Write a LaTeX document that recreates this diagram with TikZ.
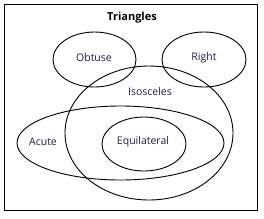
\documentclass[tikz,border=0pt]{standalone}
\usepackage{fontspec}
\setmainfont{Open Sans}
\usetikzlibrary{shapes.geometric}
\definecolor{labelnavy}{RGB}{30,30,70}
\tikzset{
  setring/.style={draw,ellipse,line width=0.9pt,inner sep=0pt},
  setname/.style={font=\fontsize{10.5}{12}\selectfont,text=labelnavy}
}
\begin{document}
\begin{tikzpicture}[x=1pt,y=-1pt]
  \useasboundingbox (0,0) rectangle (264,218);
  \node[draw,line width=1pt,minimum width=253pt,minimum height=205.5pt,inner sep=0pt] (frame) at (131,107.5) {};
  \node[font=\bfseries\fontsize{11}{13}\selectfont] (title) at (132,18) {Triangles};
  % the five sets
  \node[setring,minimum width=83pt,minimum height=55pt] (obtuse) at (94.5,59.5) {};
  \node[setring,minimum width=84pt,minimum height=55pt] (right) at (204,59.5) {};
  \node[setring,minimum width=168pt,minimum height=134pt] (isos) at (149,133) {};
  \node[setring,minimum width=207pt,minimum height=74pt] (acute) at (120.5,143) {};
  \node[setring,minimum width=84pt,minimum height=54pt] (equi) at (144,144) {};
  % labels
  \node[setname] (lobtuse) at (94,58) {Obtuse};
  \node[setname] (lright) at (204,58) {Right};
  \node[setname] (lisos) at (150,92) {Isosceles};
  \node[setname] (lacute) at (43,142) {Acute};
  \node[setname] (lequi) at (143,142) {Equilateral};
\end{tikzpicture}
\end{document}
